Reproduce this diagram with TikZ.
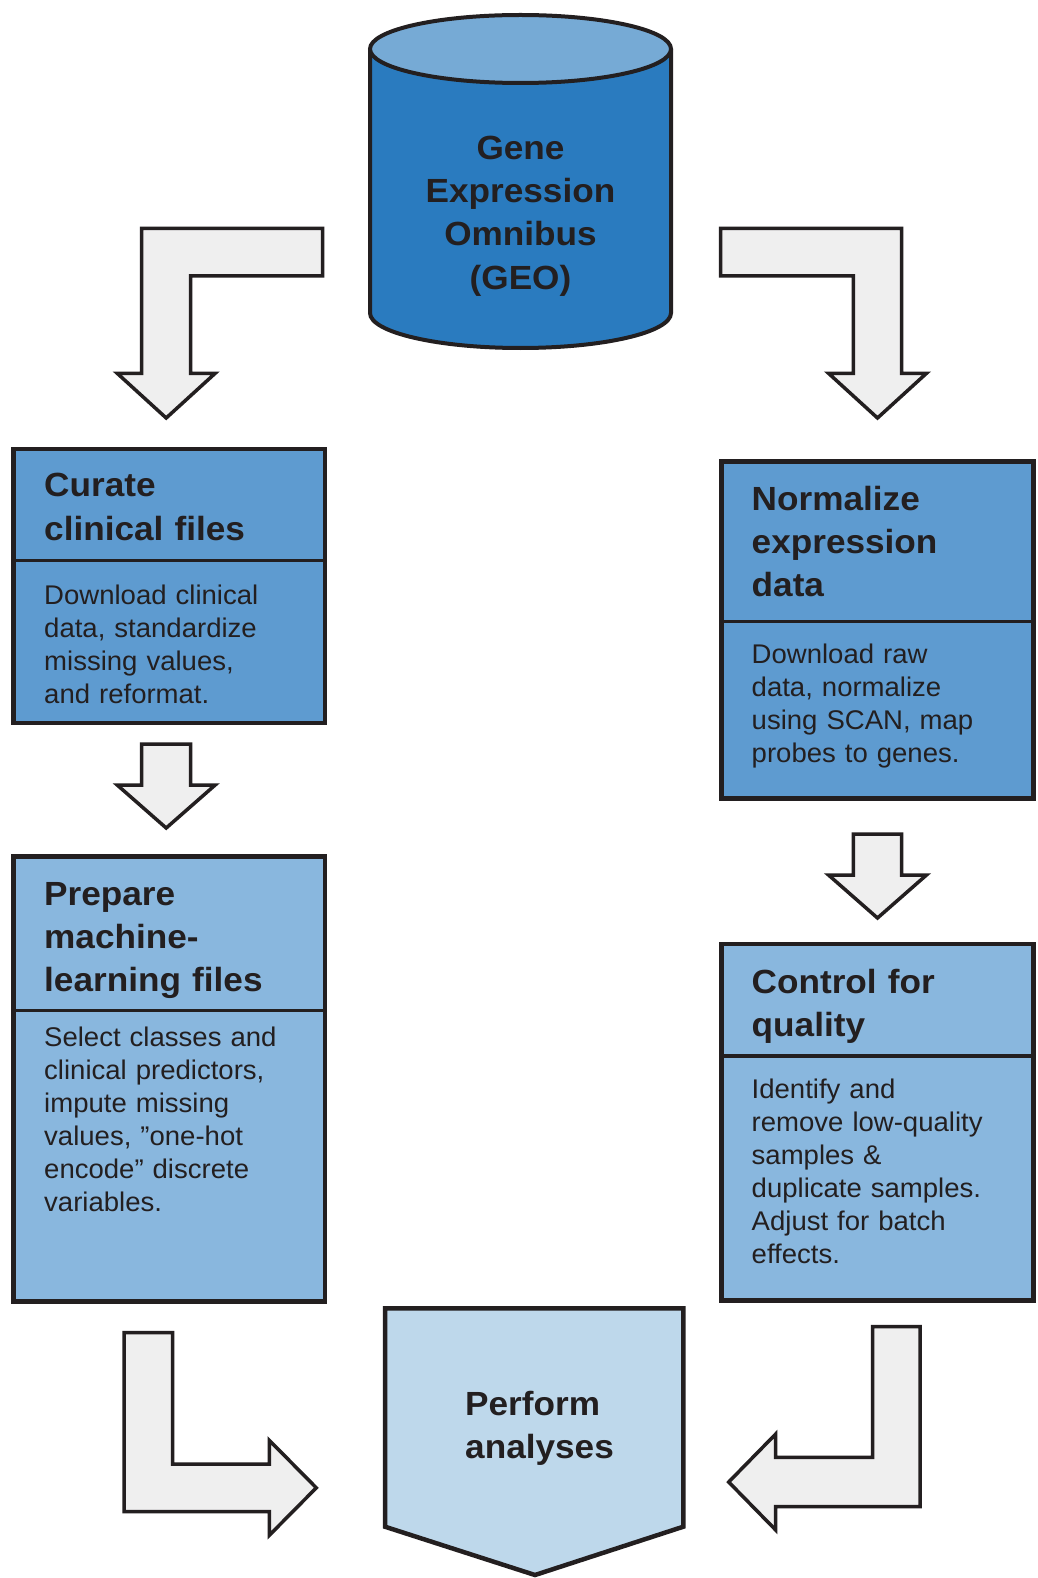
\documentclass[tikz,border=0pt]{standalone}
\usepackage{fontspec}
\newfontfamily\headfont[FakeStretch=1.05]{Liberation Sans}
\newfontfamily\bodyfont[FakeStretch=1.02]{Liberation Sans}
\definecolor{ink}{HTML}{231F20}
\definecolor{geobody}{HTML}{2A7BBF}
\definecolor{geotop}{HTML}{76AAD5}
\definecolor{midblue}{HTML}{5E9BD0}
\definecolor{lightblue}{HTML}{89B7DE}
\definecolor{paleblue}{HTML}{BED8EB}
\definecolor{arrowgray}{HTML}{EFEFEF}
\tikzset{
  blockarrow/.style={draw=ink, fill=arrowgray, line width=3.5pt, line join=miter},
  panel/.style={draw=ink, line width=4.5pt},
  divider/.style={draw=ink, line width=3.5pt},
  heading/.style={inner sep=0pt, text=ink, text width=300pt, align=left, anchor=base west,
    font=\headfont\bfseries\fontsize{33.5}{43.3}\selectfont},
  bodytext/.style={inner sep=0pt, text=ink, text width=300pt, align=left, anchor=base west,
    font=\bodyfont\fontsize{27}{33}\selectfont},
}
\begin{document}
\begin{tikzpicture}[x=1pt,y=1pt]
\useasboundingbox (0,0) rectangle (1037,-1578);
\fill[white] (0,0) rectangle (1037,-1578);

% GEO database cylinder
\fill[geobody] (370,-49) -- (370,-313)
  arc[start angle=180, end angle=360, x radius=150.5pt, y radius=35pt]
  -- (671,-49) -- cycle;
\draw[ink, line width=4pt] (370,-49) -- (370,-313)
  arc[start angle=180, end angle=360, x radius=150.5pt, y radius=35pt]
  -- (671,-49);
\draw[ink, fill=geotop, line width=4pt] (520.5,-49) ellipse[x radius=150.5pt, y radius=34pt];
\node[heading, text width=320pt, align=center, anchor=base] (geo) at (520.5,-159.3)
  {Gene\\Expression\\Omnibus\\(GEO)};

% Bent arrows leaving the database
\draw[blockarrow] (322.7,-228.3) -- (141.7,-228.3) -- (141.7,-373.3) -- (117.2,-373.3)
  -- (166.2,-418) -- (215.2,-373.3) -- (190.7,-373.3) -- (190.7,-276) -- (322.7,-276) -- cycle;
\draw[blockarrow] (720.7,-228.3) -- (901.7,-228.3) -- (901.7,-373.3) -- (926.5,-373.3)
  -- (877.5,-418) -- (828.5,-373.3) -- (853.3,-373.3) -- (853.3,-276) -- (720.7,-276) -- cycle;

% Curate clinical files
\path[panel, fill=midblue] (13.3,-449) rectangle (325,-723);
\draw[divider] (13.3,-560.7) -- (325,-560.7);
\node[heading] (curate) at (44,-496.7) {Curate\\clinical files};
\node[bodytext] (curatetxt) at (44,-604)
  {Download clinical\\data, standardize\\missing values,\\and reformat.};

% Normalize expression data
\path[panel, fill=midblue] (721.7,-461.7) rectangle (1033.3,-798.3);
\draw[divider] (721.7,-621.7) -- (1033.3,-621.7);
\node[heading] (normalize) at (751.5,-510) {Normalize\\expression\\data};
\node[bodytext] (normalizetxt) at (751.5,-663.3)
  {Download raw\\data, normalize\\using SCAN, map\\probes to genes.};

% Straight arrows between stages
\draw[blockarrow] (141.7,-744) -- (190.7,-744) -- (190.7,-785) -- (215.2,-785)
  -- (166.2,-828) -- (117.2,-785) -- (141.7,-785) -- cycle;
\draw[blockarrow] (853.3,-834) -- (901.7,-834) -- (901.7,-875) -- (926.5,-875)
  -- (877.5,-918) -- (828.5,-875) -- (853.3,-875) -- cycle;

% Prepare machine-learning files
\path[panel, fill=lightblue] (13.3,-856.7) rectangle (325,-1301.7);
\draw[divider] (13.3,-1010.7) -- (325,-1010.7);
\node[heading] (prepare) at (44,-905) {Prepare\\machine-\\learning files};
\node[bodytext] (preparetxt) at (44,-1046.7)
  {Select classes and\\clinical predictors,\\impute missing\\values, ”one-hot\\encode” discrete\\variables.};

% Control for quality
\path[panel, fill=lightblue] (721.7,-944) rectangle (1033.3,-1300.7);
\draw[divider] (721.7,-1056) -- (1033.3,-1056);
\node[heading] (control) at (751.5,-993.3) {Control for\\quality};
\node[bodytext] (controltxt) at (751.5,-1098.3)
  {Identify and\\remove low-quality\\samples \&\\duplicate samples.\\Adjust for batch\\effects.};

% Perform analyses
\path[panel, fill=paleblue, line join=miter] (385,-1308.3) -- (683.3,-1308.3) -- (683.3,-1526.7)
  -- (535,-1575) -- (385,-1526.7) -- cycle;
\node[heading] (perform) at (465,-1415) {Perform\\analyses};

% Bent arrows into the analysis step
\draw[blockarrow] (124,-1332.7) -- (172.7,-1332.7) -- (172.7,-1464) -- (269.3,-1464)
  -- (269.3,-1440.3) -- (316.3,-1487.8) -- (269.3,-1535.3) -- (269.3,-1511.7)
  -- (124,-1511.7) -- cycle;
\draw[blockarrow] (920,-1326.7) -- (872.7,-1326.7) -- (872.7,-1457.3) -- (775.7,-1457.3)
  -- (775.7,-1434) -- (728.7,-1482) -- (775.7,-1530) -- (775.7,-1506.7)
  -- (920,-1506.7) -- cycle;
\end{tikzpicture}
\end{document}
